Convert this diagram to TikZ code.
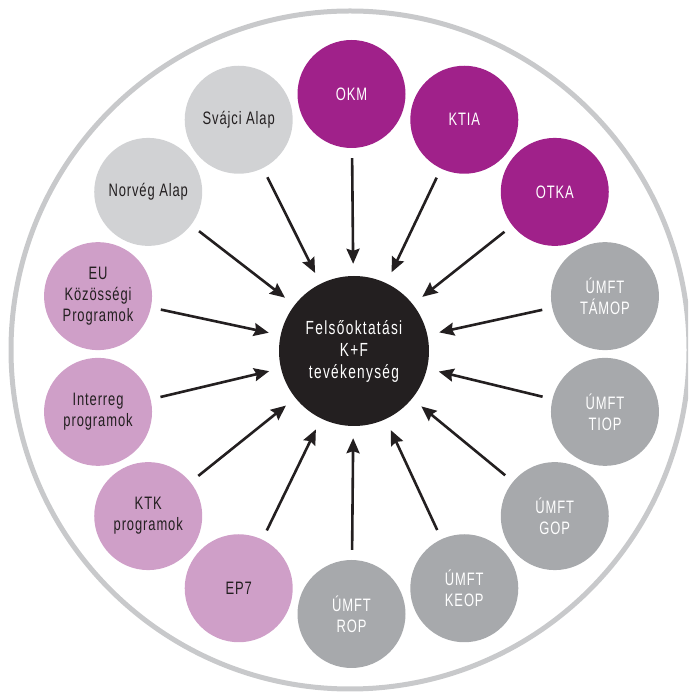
\documentclass[tikz,border=0pt]{standalone}
\usepackage{fontspec}
\setmainfont{Liberation Sans}[FakeStretch=0.72,LetterSpace=5]
\usepackage{tikz}
\usetikzlibrary{arrows.meta,calc}
\definecolor{ringgray}{HTML}{C8C9CB}
\definecolor{lightgray}{HTML}{D1D2D4}
\definecolor{midgray}{HTML}{A7A9AC}
\definecolor{darkpurple}{HTML}{A0218A}
\definecolor{lightpurple}{HTML}{CF9FC8}
\definecolor{inkblack}{HTML}{231F20}
\tikzset{
    source/.style={circle,inner sep=0pt,minimum size=108pt,align=center,font=\fontsize{18}{21}\selectfont},
    swiss/.style={source,fill=lightgray,text=inkblack},
    state/.style={source,fill=darkpurple,text=white},
    umft/.style={source,fill=midgray,text=white},
    eu/.style={source,fill=lightpurple,text=inkblack},
    hub/.style={circle,inner sep=0pt,minimum size=150pt,fill=inkblack,text=white,align=center,font=\fontsize{19}{22}\selectfont\addfontfeature{LetterSpace=7}},
    arr/.style={-{Stealth[length=15pt,width=13pt,inset=2pt]},line width=2.6pt,color=inkblack,shorten <=10pt,shorten >=12pt},
}
\begin{document}
\begin{tikzpicture}[x=1pt,y=1pt]
    \useasboundingbox (0,0) rectangle (688,696);
    \begin{scope}
        \clip (0,0) rectangle (688,696);
        \draw[ringgray,line width=5pt] (350,346) circle (339);
    \end{scope}
    \coordinate (mid) at (351.5,342);
    \node[hub] (kf) at (354,345) {Felsőoktatási\\K+F\\tevékenység};
    \foreach \ang/\sty/\txt [count=\i] in {
        90/state/OKM,
        64.29/state/KTIA,
        38.57/state/OTKA,
        12.86/umft/{ÚMFT\\TÁMOP},
        -12.86/umft/{ÚMFT\\TIOP},
        -38.57/umft/{ÚMFT\\GOP},
        -64.29/umft/{ÚMFT\\KEOP},
        -90/umft/{ÚMFT\\ROP},
        -115.71/eu/EP7,
        -141.43/eu/{KTK\\programok},
        -167.14/eu/{Interreg\\programok},
        167.14/eu/{EU\\Közösségi\\Programok},
        141.43/swiss/{Norvég Alap},
        115.71/swiss/{Svájci Alap}}
    {
        \node[\sty] (s\i) at ($(mid)+(\ang:260)$) {\txt};
        \draw[arr] (s\i) -- (kf);
    }
\end{tikzpicture}
\end{document}
